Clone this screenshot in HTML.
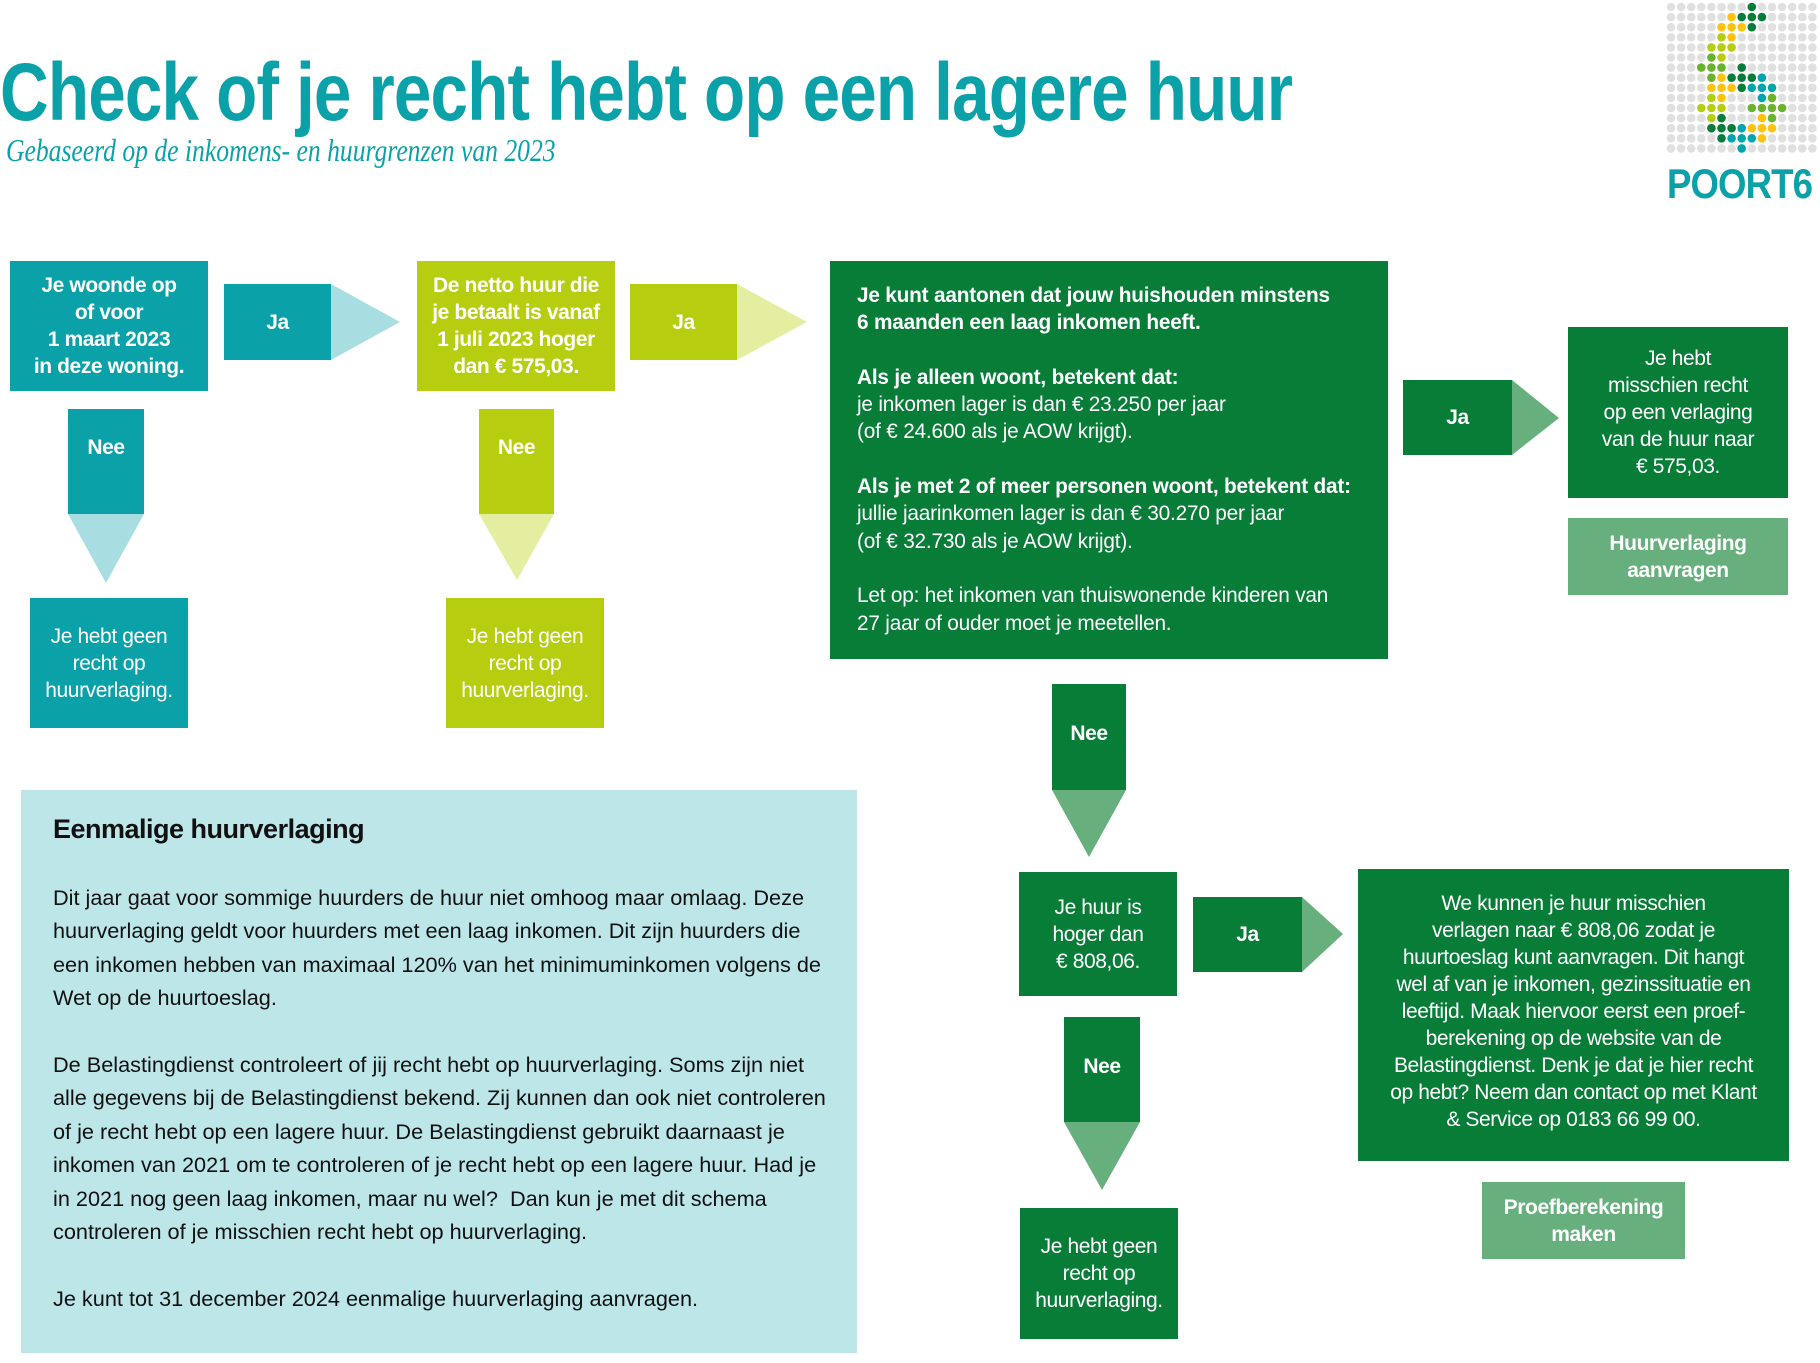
<!DOCTYPE html>
<html><head><meta charset="utf-8">
<style>
*{margin:0;padding:0;box-sizing:border-box}
body{width:1820px;height:1363px;position:relative;background:#fff;font-family:"Liberation Sans",sans-serif;overflow:hidden}
.a{position:absolute}
.box{position:absolute;display:flex;align-items:center;justify-content:center;text-align:center;color:#fff;font-size:21px;line-height:27px;letter-spacing:-0.4px}
.b{font-weight:bold}
.t{background:#0aa1a9}.l{background:#b6cd10}.g{background:#077d38}.m{background:#67b07e}
svg{position:absolute;left:0;top:0}
</style></head><body>
<div class="a" style="left:0;top:46px;font-size:82px;font-weight:bold;color:#0aa1a9;white-space:nowrap;transform:scaleX(0.822);transform-origin:left top;letter-spacing:-1px">Check of je recht hebt op een lagere huur</div>
<div class="a" style="left:6px;top:132px;font-size:32px;font-family:'Liberation Serif',serif;font-style:italic;color:#0aa1a9;white-space:nowrap;transform:scaleX(0.80);transform-origin:left top">Gebaseerd op de inkomens- en huurgrenzen van 2023</div>

<svg width="1820" height="1363" id="s">
<polygon points="331,284 400,322 331,360" fill="#a8dee2"/>
<polygon points="68,514 144,514 106,583" fill="#a8dee2"/>
<polygon points="737,284 807,322 737,360" fill="#e5eea0"/>
<polygon points="479,514 554,514 517,580" fill="#e5eea0"/>
<polygon points="1512,380 1559,418 1512,455" fill="#67b07e"/>
<polygon points="1052,790 1126,790 1089,857" fill="#67b07e"/>
<polygon points="1302,897 1343,934 1302,972" fill="#67b07e"/>
<polygon points="1064,1122 1140,1122 1102,1190" fill="#67b07e"/>
<g id="logo"></g>
</svg>
<div class="a" style="left:1667px;top:160px;font-size:42px;font-weight:bold;color:#0aa1a9;transform:scaleX(0.87);transform-origin:left top;letter-spacing:-1px">POORT6</div>

<div class="box t b" style="left:10px;top:261px;width:198px;height:130px">Je woonde op<br>of voor<br>1 maart 2023<br>in deze woning.</div>
<div class="box t b" style="left:224px;top:284px;width:107px;height:76px">Ja</div>
<div class="box t b" style="left:68px;top:409px;width:76px;height:105px;align-items:flex-start;padding-top:25px">Nee</div>
<div class="box t" style="left:30px;top:598px;width:158px;height:130px">Je hebt geen<br>recht op<br>huurverlaging.</div>

<div class="box l b" style="left:417px;top:261px;width:198px;height:130px">De netto huur die<br>je betaalt is vanaf<br>1 juli 2023 hoger<br>dan € 575,03.</div>
<div class="box l b" style="left:630px;top:284px;width:107px;height:76px">Ja</div>
<div class="box l b" style="left:479px;top:409px;width:75px;height:105px;align-items:flex-start;padding-top:25px">Nee</div>
<div class="box l" style="left:446px;top:598px;width:158px;height:130px">Je hebt geen<br>recht op<br>huurverlaging.</div>

<div class="box g" style="left:830px;top:261px;width:558px;height:398px;display:block;text-align:left;padding:21px 0 0 27px;font-size:20.8px;line-height:27.3px;letter-spacing:-0.2px">
<b>Je kunt aantonen dat jouw huishouden minstens<br>6 maanden een laag inkomen heeft.</b><br><br>
<b>Als je alleen woont, betekent dat:</b><br>je inkomen lager is dan € 23.250 per jaar<br>(of € 24.600 als je AOW krijgt).<br><br>
<b>Als je met 2 of meer personen woont, betekent dat:</b><br>jullie jaarinkomen lager is dan € 30.270 per jaar<br>(of € 32.730 als je AOW krijgt).<br><br>
Let op: het inkomen van thuiswonende kinderen van<br>27 jaar of ouder moet je meetellen.</div>

<div class="box g b" style="left:1403px;top:380px;width:109px;height:75px">Ja</div>
<div class="box g" style="left:1568px;top:327px;width:220px;height:171px">Je hebt<br>misschien recht<br>op een verlaging<br>van de huur naar<br>€ 575,03.</div>
<div class="box m b" style="left:1568px;top:518px;width:220px;height:77px">Huurverlaging<br>aanvragen</div>

<div class="box g b" style="left:1052px;top:684px;width:74px;height:106px;align-items:flex-start;padding-top:36px">Nee</div>
<div class="box g" style="left:1019px;top:872px;width:158px;height:124px">Je huur is<br>hoger dan<br>€ 808,06.</div>
<div class="box g b" style="left:1193px;top:897px;width:109px;height:75px">Ja</div>
<div class="box g" style="left:1358px;top:869px;width:431px;height:292px;padding-bottom:8px">We kunnen je huur misschien<br>verlagen naar € 808,06 zodat je<br>huurtoeslag kunt aanvragen. Dit hangt<br>wel af van je inkomen, gezinssituatie en<br>leeftijd. Maak hiervoor eerst een proef-<br>berekening op de website van de<br>Belastingdienst. Denk je dat je hier recht<br>op hebt? Neem dan contact op met Klant<br>&amp; Service op 0183 66 99 00.</div>
<div class="box m b" style="left:1482px;top:1182px;width:203px;height:77px">Proefberekening<br>maken</div>
<div class="box g b" style="left:1064px;top:1017px;width:76px;height:105px;align-items:flex-start;padding-top:36px">Nee</div>
<div class="box g" style="left:1020px;top:1208px;width:158px;height:131px">Je hebt geen<br>recht op<br>huurverlaging.</div>

<div class="a" style="left:21px;top:790px;width:836px;height:563px;background:#bde6e8;padding:22px 0 0 32px;color:#111;font-size:21.7px;line-height:33.4px;letter-spacing:0px">
<div style="font-weight:bold;font-size:27px;line-height:34px;margin-bottom:35px;letter-spacing:-0.5px">Eenmalige huurverlaging</div>
Dit jaar gaat voor sommige huurders de huur niet omhoog maar omlaag. Deze<br>huurverlaging geldt voor huurders met een laag inkomen. Dit zijn huurders die<br>een inkomen hebben van maximaal 120% van het minimuminkomen volgens de<br>Wet op de huurtoeslag.<br><br>
De Belastingdienst controleert of jij recht hebt op huurverlaging. Soms zijn niet<br>alle gegevens bij de Belastingdienst bekend. Zij kunnen dan ook niet controleren<br>of je recht hebt op een lagere huur. De Belastingdienst gebruikt daarnaast je<br>inkomen van 2021 om te controleren of je recht hebt op een lagere huur. Had je<br>in 2021 nog geen laag inkomen, maar nu wel?&nbsp; Dan kun je met dit schema<br>controleren of je misschien recht hebt op huurverlaging.<br><br>
Je kunt tot 31 december 2024 eenmalige huurverlaging aanvragen.</div>

<script>
var C={D:"#077d38",Y:"#ffc20e",L:"#b6cd10",M:"#6ab42d",T:"#00a5ad"};
var rows=["........D......","......YDDD.....",".....YYYD......",".....LY........","....LLL........","....ML.........","...MMM.D.......","....MYDDDT.....","....YYYDTTT....","....LY...TM....","...LLL..MMMM...","....LD...YM....","....DDDTYYY....",".....DTTTY.....",".......T......."];
var g=document.getElementById("logo"),h="";
for(var r=0;r<15;r++)for(var c=0;c<15;c++){var ch=rows[r][c];var col=C[ch]||"#e0e0e0";h+='<circle cx="'+(1671+c*10.1)+'" cy="'+(7+r*10.1)+'" r="4.3" fill="'+col+'"/>';}
g.innerHTML=h;
</script>
</body></html>
